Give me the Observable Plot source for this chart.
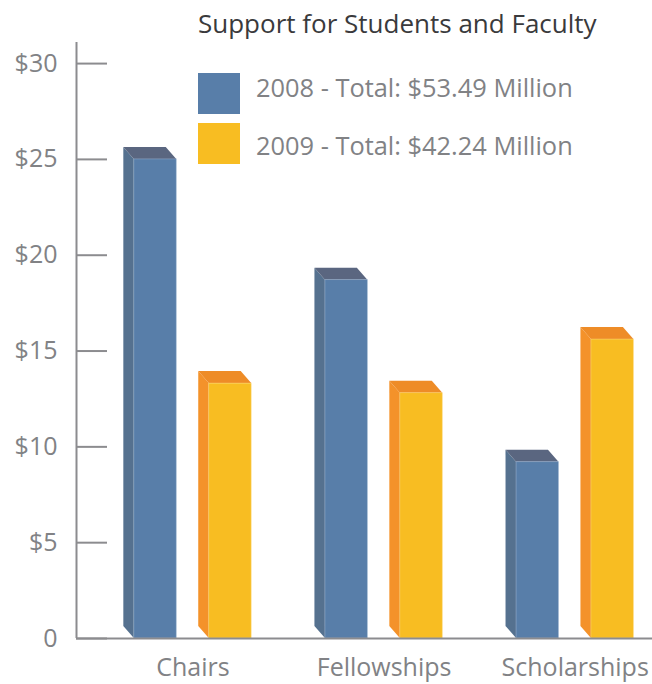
<!DOCTYPE html>
<html>
<head>
<meta charset="utf-8">
<script src="https://cdn.jsdelivr.net/npm/d3@7"></script>
<script src="https://cdn.jsdelivr.net/npm/@observablehq/plot@0.6"></script>
<style>
  body { margin: 0; background: #ffffff; }
  #wrap { position: relative; width: 652px; height: 684px; font-family: "Open Sans", sans-serif; }
  #wrap svg { position: absolute; left: 0; top: 0; }
  .ov { position: absolute; white-space: nowrap; line-height: 1; }
  #title { left: 198px; top: 10px; font-size: 26px; color: #3a3a3c; }
  .sw { position: absolute; left: 198px; width: 42px; height: 41px; }
  .lt { left: 256px; font-size: 25.4px; color: #818285; }
</style>
</head>
<body>
<div id="wrap"></div>
<script>
// ---- data ----
const titleText = "Support for Students and Faculty";
const categories = ["Chairs", "Fellowships", "Scholarships"];
const years = ["2008", "2009"];
const values2008 = [25.0, 18.7, 9.2];
const values2009 = [13.3, 12.8, 15.6];
const legendLabels = ["2008 - Total: $53.49 Million", "2009 - Total: $42.24 Million"];
const yTicks = [0, 5, 10, 15, 20, 25, 30];
const yTickLabels = ["0", "$5", "$10", "$15", "$20", "$25", "$30"];

// ---- styles ----
const palette = {
  "2008": {front: "#587ea9", side: "#55718f", top: "#5a6680", edge: "#9fb6d2"},
  "2009": {front: "#f8bd22", side: "#f4922a", top: "#ee8c27", edge: "#fcd77a"}
};
const axisColor = "#8c8c8f";
const W = 652, H = 684;
const mL = 76, mR = 0, mT = 42, mB = 46;
const xDomain = [-0.6096, 2.4045];
const yDomain = [0, 31.1];
const pxPerX = (W - mL - mR) / (xDomain[1] - xDomain[0]);
const pxPerY = (H - mT - mB) / (yDomain[1] - yDomain[0]);
const offset = 0.196;      // half distance between paired bars (x units)
const halfW = 0.111;       // half bar width (x units)
const depthX = 10.5 / pxPerX;
const depthY = 12 / pxPerY;
const tickLen = 31 / pxPerX;

// ---- build table ----
const rows = [];
categories.forEach((c, i) => {
  [values2008[i], values2009[i]].forEach((v, j) => {
    const cx = i + (j === 0 ? -offset : offset);
    rows.push({cat: c, year: years[j], value: v, key: c + years[j], x1: cx - halfW, x2: cx + halfW});
  });
});
const sideRows = rows.flatMap(d => [
  {key: d.key, year: d.year, x: d.x1 - depthX, y1: depthY, y2: d.value + depthY},
  {key: d.key, year: d.year, x: d.x1, y1: 0, y2: d.value}
]);
const topRows = rows.flatMap(d => [
  {key: d.key, year: d.year, x: d.x1 - depthX, y1: d.value + depthY, y2: d.value + depthY},
  {key: d.key, year: d.year, x: d.x1, y1: d.value, y2: d.value + depthY},
  {key: d.key, year: d.year, x: d.x2 - depthX, y1: d.value, y2: d.value + depthY},
  {key: d.key, year: d.year, x: d.x2, y1: d.value, y2: d.value}
]);

const barMarks = years.flatMap(yr => [
  Plot.areaY(sideRows.filter(d => d.year === yr), {x: "x", y1: "y1", y2: "y2", z: "key", fill: palette[yr].side}),
  Plot.areaY(topRows.filter(d => d.year === yr), {x: "x", y1: "y1", y2: "y2", z: "key", fill: palette[yr].top}),
  Plot.rectY(rows.filter(d => d.year === yr), {x1: "x1", x2: "x2", y1: 0, y2: "value", fill: palette[yr].front, stroke: palette[yr].edge, strokeWidth: 0.8, strokeOpacity: 0.6})
]);

const chart = Plot.plot({
  width: W, height: H,
  marginLeft: mL, marginRight: mR, marginTop: mT, marginBottom: mB,
  style: {fontFamily: "'Open Sans', sans-serif", color: "#818285", background: "transparent"},
  x: {type: "linear", domain: xDomain},
  y: {type: "linear", domain: yDomain},
  marks: [
    ...barMarks,
    Plot.ruleY(yTicks, {x1: xDomain[0], x2: xDomain[0] + tickLen, stroke: axisColor, strokeWidth: 2}),
    Plot.ruleX([xDomain[0]], {stroke: axisColor, strokeWidth: 2}),
    Plot.ruleY([0], {stroke: axisColor, strokeWidth: 2}),
    Plot.axisY({ticks: yTicks, tickFormat: d => yTickLabels[yTicks.indexOf(d)], tickSize: 0, tickPadding: 19, fontSize: 25, label: null}),
    Plot.axisX({ticks: [0, 1, 2], tickFormat: i => categories[i], tickSize: 0, tickPadding: 20, fontSize: 25, label: null})
  ]
});

const wrap = document.getElementById("wrap");
wrap.appendChild(chart);

const t = document.createElement("div");
t.className = "ov"; t.id = "title"; t.textContent = titleText;
wrap.appendChild(t);

const swTops = [73, 123];
const textTops = [74.5, 132.8];
years.forEach((yr, j) => {
  const s = document.createElement("div");
  s.className = "sw";
  s.style.top = swTops[j] + "px";
  s.style.background = palette[yr].front;
  wrap.appendChild(s);
  const l = document.createElement("div");
  l.className = "ov lt";
  l.style.top = textTops[j] + "px";
  l.textContent = legendLabels[j];
  wrap.appendChild(l);
});
</script>
</body>
</html>
